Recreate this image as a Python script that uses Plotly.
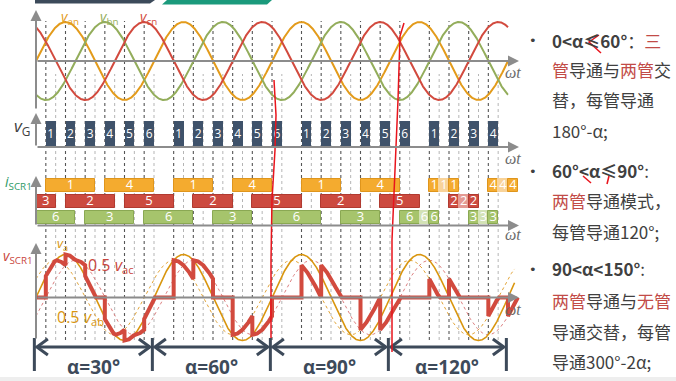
import numpy as np
import plotly.graph_objects as go

# ---------------- data ----------------
ALPHA_DEG = [30, 60, 90, 120]
ALPHA_LABELS = ["α=30°", "α=60°", "α=90°", "α=120°"]
PERIOD_DEG = 360

PHASE_LABELS = ["<i>v</i><sub>an</sub>", "<i>v</i><sub>bn</sub>", "<i>v</i><sub>cn</sub>"]
PHASE_SHIFT = [0, 120, 240]

# gate pulses (start angle, deg) and thyristor numbers
PULSE_START = [30, 90, 150, 210, 270, 330,
               420, 480, 540, 600, 660, 720,
               810, 870, 930, 990, 1050, 1110,
               1200, 1260, 1320, 1380]
PULSE_LABEL = ["1", "2", "3", "4", "5", "6",
               "1", "2", "3", "4", "5", "6",
               "1", "2", "3", "4", "5", "6",
               "1", "2", "3", "4"]
PULSE_WIDTH = 30

# thyristor conduction bars, per phase row
A_LABEL = ["1", "4", "1", "4", "1", "4", "1", "1", "1", "4", "4", "4"]
A_START = [30, 210, 420, 600, 810, 990, 1200, 1230, 1260, 1380, 1410, 1440]
A_END = [180, 360, 540, 720, 930, 1110, 1230, 1260, 1290, 1410, 1440, 1470]
A_STATE = ["on"] * 6 + ["on", "off", "on", "on", "off", "on"]

C_LABEL = ["3", "2", "5", "2", "5", "2", "5", "2", "2", "2", "5"]
C_START = [0, 90, 270, 480, 660, 870, 1050, 1260, 1290, 1320, 1440]
C_END = [60, 240, 420, 600, 810, 990, 1170, 1290, 1320, 1350, 1470]
C_STATE = ["on"] * 7 + ["on", "off", "on", "hidden"]

B_LABEL = ["6", "3", "6", "3", "6", "3", "6", "6", "6", "3", "3", "3"]
B_START = [0, 150, 330, 540, 720, 930, 1110, 1170, 1200, 1320, 1350, 1380]
B_END = [120, 300, 480, 660, 870, 1050, 1170, 1200, 1230, 1350, 1380, 1410]
B_STATE = ["on"] * 6 + ["on", "off", "on", "on", "off", "on"]

TEXT_LINES = [
    "<b>0&lt;α≤60°</b>：<span style='color:#c24b47'>三</span>",
    "<span style='color:#c24b47'>管</span>导通与<span style='color:#c24b47'>两管</span>交",
    "替，每管导通",
    "180°-α;",
    "<b>60°&lt;α≤90°</b>:",
    "<span style='color:#c24b47'>两管</span>导通模式，",
    "每管导通120°;",
    "<b>90&lt;α&lt;150°</b>:",
    "<span style='color:#c24b47'>两管</span>导通与<span style='color:#c24b47'>无管</span>",
    "导通交替，每管",
    "导通300°-2α;",
]
TEXT_BULLET = [True, False, False, False, True, False, False, True, False, False, False]

# ---------------- layout helpers ----------------
W, H = 676, 381
X0_PX, X1_PX = 36.0, 508.0
SPAN = 4 * PERIOD_DEG
S = (X1_PX - X0_PX) / SPAN


def px2deg(px):
    return (px - X0_PX) / S


def yp(py):
    return 1 - py / H


def xp(px):
    return px / W


# panel: (top px, bottom px, zero px, px per unit)
PANELS = {
    "y": (4, 106, 61, 39),
    "y2": (106, 165, 147, 26),
    "y3": (165, 238, 225.5, 16),
    "y4": (238, 352, 297.5, 43),
}

ORANGE = "#e39b1b"
GREEN = "#93ad5b"
RED = "#d24a3e"
SLATE = "#3f526a"
DARK = "#3d4a5a"
GRAY = "#8c8c8c"

fig = go.Figure()

# ---------------- panel 1: phase voltages ----------------
th = np.linspace(0, SPAN, 1441)
for lab, sh, col in zip(PHASE_LABELS, PHASE_SHIFT, [ORANGE, GREEN, RED]):
    fig.add_trace(go.Scatter(x=th, y=np.sin(np.radians(th - sh)), mode="lines",
                             line=dict(color=col, width=2), xaxis="x", yaxis="y",
                             hoverinfo="skip"))

# ---------------- panel 2: gate pulses ----------------
pc = [s + PULSE_WIDTH / 2 for s in PULSE_START]
fig.add_trace(go.Bar(x=pc, y=[1] * len(pc), width=PULSE_WIDTH, base=0,
                     marker=dict(color=SLATE, opacity=1, line=dict(width=0)),
                     xaxis="x", yaxis="y2", hoverinfo="skip"))
fig.add_trace(go.Scatter(x=pc, y=[0.45] * len(pc), text=PULSE_LABEL, mode="text",
                         textfont=dict(color="white", size=12, family="Open Sans"),
                         xaxis="x", yaxis="y2", hoverinfo="skip", cliponaxis=False))

# ---------------- panel 3: conduction bars ----------------
rows = [
    (A_LABEL, A_START, A_END, A_STATE, 2.5, "#f4ab2f", "#f8d39a", "#df951c"),
    (C_LABEL, C_START, C_END, C_STATE, 1.5, "#cc4a3f", "#e49a93", "#b13a30"),
    (B_LABEL, B_START, B_END, B_STATE, 0.5, "#a6c46c", "#d3e2b6", "#8aa853"),
]
for lab, st, en, state, yrow, col, light, edge in rows:
    idx = [i for i, s in enumerate(state) if s != "hidden"]
    fig.add_trace(go.Bar(
        orientation="h", base=[st[i] for i in idx], x=[en[i] - st[i] for i in idx],
        y=[yrow] * len(idx), width=0.84,
        marker=dict(color=[col if state[i] == "on" else light for i in idx], opacity=1,
                    line=dict(color=[edge if state[i] == "on" else light for i in idx], width=1)),
        xaxis="x", yaxis="y3", hoverinfo="skip"))
    fig.add_trace(go.Scatter(
        x=[(st[i] + en[i]) / 2 for i in idx], y=[yrow] * len(idx),
        text=[lab[i] for i in idx], mode="text",
        textfont=dict(color="white", size=13, family="Open Sans"),
        xaxis="x", yaxis="y3", hoverinfo="skip", cliponaxis=False))

# ---------------- panel 4: load phase voltage ----------------
def conducting(theta, st, en, state):
    on = np.zeros_like(theta, dtype=bool)
    for s, e, k in zip(st, en, state):
        if k != "off":
            on |= (theta >= s) & (theta < e)
    return on


bounds = sorted(set(A_START + A_END + B_START + B_END + C_START + C_END))
grid = np.concatenate([np.arange(0, 1470.01, 0.5),
                       np.array(bounds) - 1e-4, np.array(bounds) + 1e-4])
grid = np.sort(grid[(grid >= 0) & (grid <= 1470)])
va = np.sin(np.radians(grid))
vb = np.sin(np.radians(grid - 120))
vc = np.sin(np.radians(grid - 240))
oa = conducting(grid, A_START, A_END, A_STATE)
ob = conducting(grid, B_START, B_END, B_STATE)
oc = conducting(grid, C_START, C_END, C_STATE)
u = np.where(oa & ob & oc, va,
             np.where(oa & ob, (va - vb) / 2,
                      np.where(oa & oc, (va - vc) / 2, 0.0)))

th4 = np.linspace(0, 1460, 1461)
va4 = np.sin(np.radians(th4))
vab4 = (va4 - np.sin(np.radians(th4 - 120))) / 2
vac4 = (va4 - np.sin(np.radians(th4 - 240))) / 2
fig.add_trace(go.Scatter(x=th4, y=vab4, mode="lines", line=dict(color="#e2a437", width=1, dash="dot"),
                         xaxis="x", yaxis="y4", hoverinfo="skip"))
fig.add_trace(go.Scatter(x=th4, y=vac4, mode="lines", line=dict(color="#dc7f80", width=1, dash="dot"),
                         xaxis="x", yaxis="y4", hoverinfo="skip"))
fig.add_trace(go.Scatter(x=th4, y=va4, mode="lines", line=dict(color="#d9960f", width=1.6),
                         xaxis="x", yaxis="y4", hoverinfo="skip"))
fig.add_trace(go.Scatter(x=grid, y=u, mode="lines", line=dict(color=RED, width=4),
                         xaxis="x", yaxis="y4", hoverinfo="skip"))

# ---------------- shapes ----------------
shapes = []
for s in PULSE_START:
    shapes.append(dict(type="line", xref="x", yref="paper", x0=s, x1=s,
                       y0=yp(340), y1=yp(21), layer="below",
                       line=dict(color="#555555", width=1.1, dash="3px,3px")))
    shapes.append(dict(type="line", xref="x", yref="paper", x0=s + PULSE_WIDTH, x1=s + PULSE_WIDTH,
                       y0=yp(340), y1=yp(74), layer="below",
                       line=dict(color="#b5b5b5", width=1, dash="3px,3px")))

# dimension arrows
bnd = [k * PERIOD_DEG - 5 for k in range(5)]
ARR_Y = 347
for b in bnd:
    shapes.append(dict(type="line", xref="x", yref="paper", x0=b, x1=b,
                       y0=yp(338), y1=yp(371), line=dict(color=DARK, width=3)))
hd = 11 / S
for k in range(4):
    l, r = bnd[k] + 2.5 / S, bnd[k + 1] - 2.5 / S
    shapes.append(dict(type="line", xref="x", yref="paper", x0=l, x1=r,
                       y0=yp(ARR_Y), y1=yp(ARR_Y), line=dict(color=DARK, width=3)))
    for tip, d in ((l, 1), (r, -1)):
        shapes.append(dict(type="path", xref="x", yref="paper",
                           path=f"M {tip + d * hd} {yp(ARR_Y - 8)} L {tip} {yp(ARR_Y)} L {tip + d * hd} {yp(ARR_Y + 8)}",
                           line=dict(color=DARK, width=3)))

# slide header bars
shapes.append(dict(type="path", xref="paper", yref="paper",
                   path=f"M {xp(35)} {yp(0)} L {xp(155)} {yp(0)} L {xp(150)} {yp(3.5)} L {xp(35)} {yp(3.5)} Z",
                   fillcolor="#3c4a5a", line=dict(width=0)))
shapes.append(dict(type="path", xref="paper", yref="paper",
                   path=f"M {xp(167)} {yp(0)} L {xp(272)} {yp(0)} L {xp(267)} {yp(4.5)} L {xp(162)} {yp(4.5)} Z",
                   fillcolor="#1b9a7c", line=dict(width=0)))
shapes.append(dict(type="rect", xref="paper", yref="paper", x0=0, x1=1, y0=0, y1=yp(377),
                   fillcolor="#eeeeee", line=dict(width=0)))

# red pen strokes
PEN = [
    [(274, 80), (276, 115), (275, 150), (272, 200), (271, 260), (271, 338)],
    [(404, 23), (400, 36), (398, 100), (395, 170), (392, 240), (392, 352)],
    [(599, 35), (589, 42), (601, 53)],
    [(583, 176), (591, 183)],
    [(609, 176), (607, 184)],
]
for pts in PEN:
    path = "M " + " L ".join(f"{xp(x)} {yp(y)}" for x, y in pts)
    shapes.append(dict(type="path", xref="paper", yref="paper", path=path,
                       line=dict(color="#e8141c", width=1.5)))

# ---------------- annotations ----------------
ann = []


def label(x, y, text, size, color, family="Open Sans", xref="paper", yref="paper", xanchor="center"):
    ann.append(dict(x=x, y=y, xref=xref, yref=yref, text=text, showarrow=False,
                    xanchor=xanchor, yanchor="middle", borderpad=0,
                    font=dict(family=family, size=size, color=color)))


def arrow(x, y_py, ax, ay):
    ann.append(dict(x=x, y=yp(y_py), xref="x", yref="paper", text="", showarrow=True,
                    ax=ax, ay=ay, arrowhead=2, arrowsize=1.1, arrowwidth=2, arrowcolor=GRAY))


# vertical axis arrows
arrow(0, 10, 0, 100)
arrow(0, 113, 0, 34)
arrow(0, 176, 0, 50)
arrow(0, 243, 0, 97)
# horizontal axes
for zpy in (61, 147, 225.5, 297.5):
    arrow(px2deg(519), zpy, -(519 - X0_PX), 0)

for zpy in (73, 158, 234, 309):
    label(xp(513), yp(zpy), "<i>ωt</i>", 16, "#6b6b6b", family="Liberation Serif")

# phase labels
for lab, sh, col in zip(PHASE_LABELS, PHASE_SHIFT, [ORANGE, GREEN, RED]):
    label(90 + sh + 14, 1.12, lab, 14, col, xref="x", yref="y")

# panel labels
label(xp(22), yp(126), "<i>v</i><sub>G</sub>", 17, "#404040")
label(xp(18), yp(182), "<i>i</i><sub>SCR1</sub>", 14, "#2e9a66")
label(xp(18), yp(256), "<i>v</i><sub>SCR1</sub>", 14, "#c9463d")
label(xp(62), yp(244), "<i>v</i><sub>a</sub>", 13, "#d9960f")
label(xp(111), yp(265), "0.5 <i>v</i><sub>ac</sub>", 16, "#c9463d")
label(xp(80), yp(317), "0.5 <i>v</i><sub>ab</sub>", 16, "#d9960f")

# alpha labels
for k, lab in enumerate(ALPHA_LABELS):
    label((bnd[k] + bnd[k + 1]) / 2, yp(367), f"<b>{lab}</b>", 19, DARK, xref="x")

# right text panel
TEXT_Y = [40, 70, 99, 130, 170, 201, 231, 268, 300, 331, 361]
for txt, yy, bullet in zip(TEXT_LINES, TEXT_Y, TEXT_BULLET):
    label(xp(551), yp(yy), txt, 17, "#404040", family="Noto Sans CJK SC", xanchor="left")
    if bullet:
        label(xp(533), yp(yy + 1), "•", 13, "#404040", family="DejaVu Sans")

layout_axes = {}
for name, (top, bot, zero, unit) in PANELS.items():
    key = "yaxis" if name == "y" else "yaxis" + name[1:]
    layout_axes[key] = dict(domain=[yp(bot), yp(top)], range=[-(bot - zero) / unit, (zero - top) / unit],
                            visible=False, fixedrange=True)

fig.update_layout(
    width=W, height=H, margin=dict(l=0, r=0, t=0, b=0, autoexpand=False),
    paper_bgcolor="white", plot_bgcolor="rgba(0,0,0,0)", showlegend=False,
    barmode="overlay", bargap=0,
    xaxis=dict(range=[px2deg(0), px2deg(W)], visible=False, domain=[0, 1], fixedrange=True),
    shapes=shapes, annotations=ann,
    **layout_axes,
)

fig.write_html("out.html", config={"displayModeBar": False},
               post_script="document.body.style.margin='0';document.body.style.overflow='hidden';")
